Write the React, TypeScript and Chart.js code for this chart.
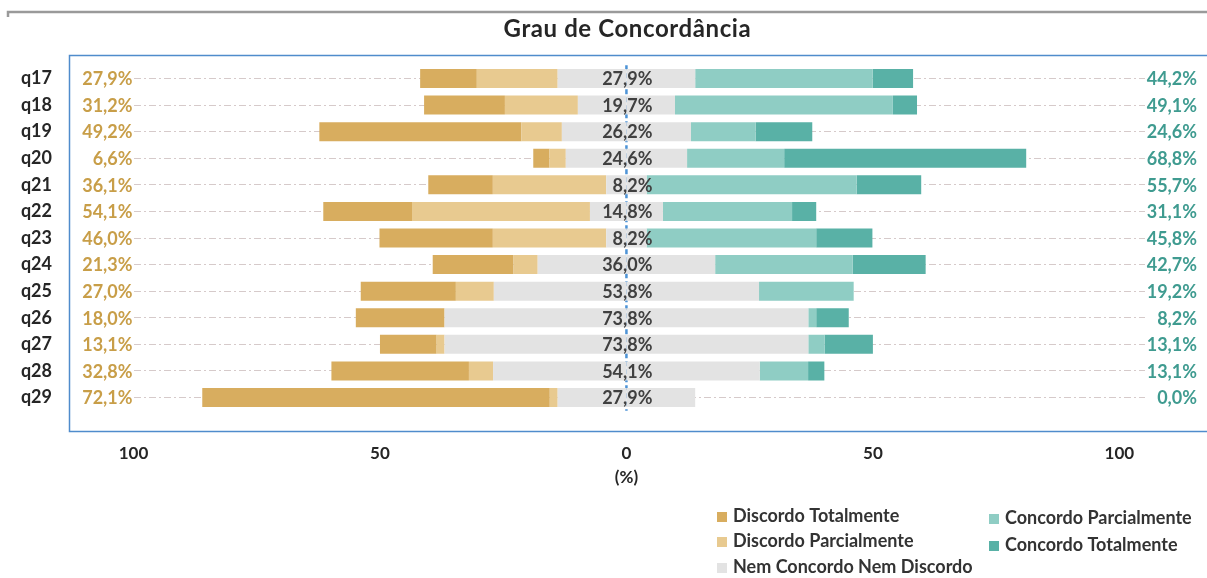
import React, { useEffect, useRef } from 'react';
import { Chart, registerables } from 'chart.js';

Chart.register(...registerables);

const categories = ['q17', 'q18', 'q19', 'q20', 'q21', 'q22', 'q23', 'q24', 'q25', 'q26', 'q27', 'q28', 'q29'];
const discordoTotalmente = [11.5, 16.4, 41.0, 3.3, 13.1, 18.0, 23.0, 16.4, 19.3, 18.0, 11.5, 27.9, 70.5];
const discordoParcialmente = [16.4, 14.8, 8.2, 3.3, 23.0, 36.1, 23.0, 4.9, 7.7, 0, 1.6, 4.9, 1.6];
const nemConcordoNemDiscordo = [27.9, 19.7, 26.2, 24.6, 8.2, 14.8, 8.2, 36.0, 53.8, 73.8, 73.8, 54.1, 27.9];
const concordoParcialmente = [36.0, 44.2, 13.1, 19.7, 42.6, 26.2, 34.4, 27.9, 19.2, 1.6, 3.3, 9.8, 0];
const concordoTotalmente = [8.2, 4.9, 11.5, 49.1, 13.1, 4.9, 11.4, 14.8, 0, 6.6, 9.8, 3.3, 0];
const xTickValues = [-100, -50, 0, 50, 100];
const seriesNames = ['Discordo Totalmente', 'Discordo Parcialmente', 'Nem Concordo Nem Discordo', 'Concordo Parcialmente', 'Concordo Totalmente'];
const chartTitle = 'Grau de Concordância';
const axisTitle = '(%)';

const COL_DT = '#d8ad5f';
const COL_DP = '#e8ca90';
const COL_N = '#e3e3e3';
const COL_CP = '#8fcdc4';
const COL_CT = '#59b1a6';
const FONT = 'Lato, "Open Sans", sans-serif';

const fmt = (v: number) => v.toFixed(1).replace('.', ',') + '%';

const decorPlugin = {
  id: 'decor',
  beforeDraw(chart: any) {
    const ctx = chart.ctx;
    ctx.save();
    ctx.strokeStyle = '#9a9a9a';
    ctx.lineWidth = 2.5;
    ctx.beginPath();
    ctx.moveTo(8, 17);
    ctx.lineTo(8, 12);
    ctx.lineTo(1207, 12);
    ctx.stroke();
    ctx.strokeStyle = '#4f8ccc';
    ctx.lineWidth = 1.5;
    ctx.strokeRect(69.5, 55.5, 1200, 376);
    ctx.restore();
  },
  beforeDatasetsDraw(chart: any) {
    const ctx = chart.ctx;
    const xs = chart.scales.x;
    const area = chart.chartArea;
    const x0 = xs.getPixelForValue(0);
    ctx.save();
    ctx.strokeStyle = '#4d93d6';
    ctx.lineWidth = 2.5;
    ctx.setLineDash([5, 3]);
    ctx.beginPath();
    ctx.moveTo(x0, area.top);
    ctx.lineTo(x0, area.bottom);
    ctx.stroke();
    ctx.restore();
  },
  afterDatasetsDraw(chart: any) {
    const ctx = chart.ctx;
    const xs = chart.scales.x;
    const area = chart.chartArea;
    const meta = chart.getDatasetMeta(0);
    ctx.save();
    ctx.font = `bold 18px ${FONT}`;
    ctx.textBaseline = 'middle';
    categories.forEach((_, i) => {
      const y = meta.data[i].y + 1;
      const left = discordoTotalmente[i] + discordoParcialmente[i];
      const right = concordoParcialmente[i] + concordoTotalmente[i];
      ctx.textAlign = 'right';
      ctx.fillStyle = '#c89e48';
      ctx.fillText(fmt(left), area.left - 1, y);
      ctx.fillStyle = '#404040';
      ctx.fillText(fmt(nemConcordoNemDiscordo[i]), xs.getPixelForValue(0) + 26, y);
      ctx.fillStyle = '#3f9b90';
      ctx.fillText(fmt(right), area.right + 52, y);
    });
    ctx.restore();
  },
  afterDraw(chart: any) {
    const ctx = chart.ctx;
    const xs = chart.scales.x;
    const x0 = xs.getPixelForValue(0);
    ctx.save();
    ctx.fillStyle = '#262626';
    ctx.textAlign = 'center';
    ctx.textBaseline = 'middle';
    ctx.font = `bold 24px ${FONT}`;
    try { (ctx as any).letterSpacing = '0.6px'; } catch (e) {}
    ctx.fillText(chartTitle, x0 + 1, 29);
    try { (ctx as any).letterSpacing = '0px'; } catch (e) {}
    ctx.font = `bold 17px ${FONT}`;
    ctx.fillText(axisTitle, x0, 478);
    // legend
    const colors = [COL_DT, COL_DP, COL_N, COL_CP, COL_CT];
    const pos = [
      [717, 516], [717, 541], [717, 567],
      [989, 518], [989, 545],
    ];
    ctx.font = `bold 18px ${FONT}`;
    ctx.textAlign = 'left';
    seriesNames.forEach((name, i) => {
      const [lx, ly] = pos[i];
      ctx.fillStyle = colors[i];
      ctx.fillRect(lx, ly - 4, 10, 10);
      ctx.fillStyle = '#333333';
      ctx.fillText(name, lx + 16, ly);
    });
    ctx.restore();
  },
};

export default function App() {
  const ref = useRef<HTMLCanvasElement | null>(null);
  useEffect(() => {
    if (!ref.current) return;
    const half = nemConcordoNemDiscordo.map((v) => v / 2);
    const common = { barPercentage: 0.715, categoryPercentage: 1, borderWidth: 0, stack: 's' };
    const chart = new Chart(ref.current, {
      type: 'bar',
      data: {
        labels: categories,
        datasets: [
          { label: seriesNames[2], data: half.map((v) => -v), backgroundColor: COL_N, ...common },
          { label: seriesNames[2], data: half, backgroundColor: COL_N, ...common },
          { label: seriesNames[1], data: discordoParcialmente.map((v) => -v), backgroundColor: COL_DP, ...common },
          { label: seriesNames[3], data: concordoParcialmente, backgroundColor: COL_CP, ...common },
          { label: seriesNames[0], data: discordoTotalmente.map((v) => -v), backgroundColor: COL_DT, ...common },
          { label: seriesNames[4], data: concordoTotalmente, backgroundColor: COL_CT, ...common },
        ],
      },
      options: {
        indexAxis: 'y',
        responsive: false,
        animation: false,
        layout: { padding: { top: 65.2, right: 62, bottom: 87.2, left: 0 } },
        plugins: {
          legend: { display: false },
          title: { display: false },
          tooltip: { enabled: false },
        },
        scales: {
          x: {
            type: 'linear',
            stacked: true,
            min: -100,
            max: 105.2,
            afterFit: (s: any) => { s.height = 80; },
            afterBuildTicks: (s: any) => { s.ticks = xTickValues.map((v) => ({ value: v })); },
            ticks: {
              autoSkip: false,
              maxRotation: 0,
              padding: 33,
              color: '#262626',
              font: { family: FONT, size: 17, weight: 'bold' },
              callback: (v: any) => String(Math.abs(Number(v))),
            },
            grid: { display: false, drawTicks: false },
            border: { display: false },
          },
          y: {
            stacked: true,
            afterFit: (s: any) => { s.width = 133.5; s.paddingTop = 0; s.paddingBottom = 0; },
            ticks: {
              autoSkip: false,
              padding: 81.5,
              color: '#262626',
              font: { family: FONT, size: 18, weight: 'bold' },
            },
            grid: {
              z: -1,
              offset: false,
              drawTicks: false,
              color: '#d6caca',
              lineWidth: 1,
            },
            border: { display: false, dash: [7, 3, 2, 3] },
          },
        },
      },
      plugins: [decorPlugin],
    } as any);
    return () => chart.destroy();
  }, []);
  return (
    <div style={{ position: 'fixed', left: 0, top: 0, width: 1207, height: 578, background: '#ffffff' }}>
      <canvas ref={ref} width={1207} height={578} />
    </div>
  );
}
